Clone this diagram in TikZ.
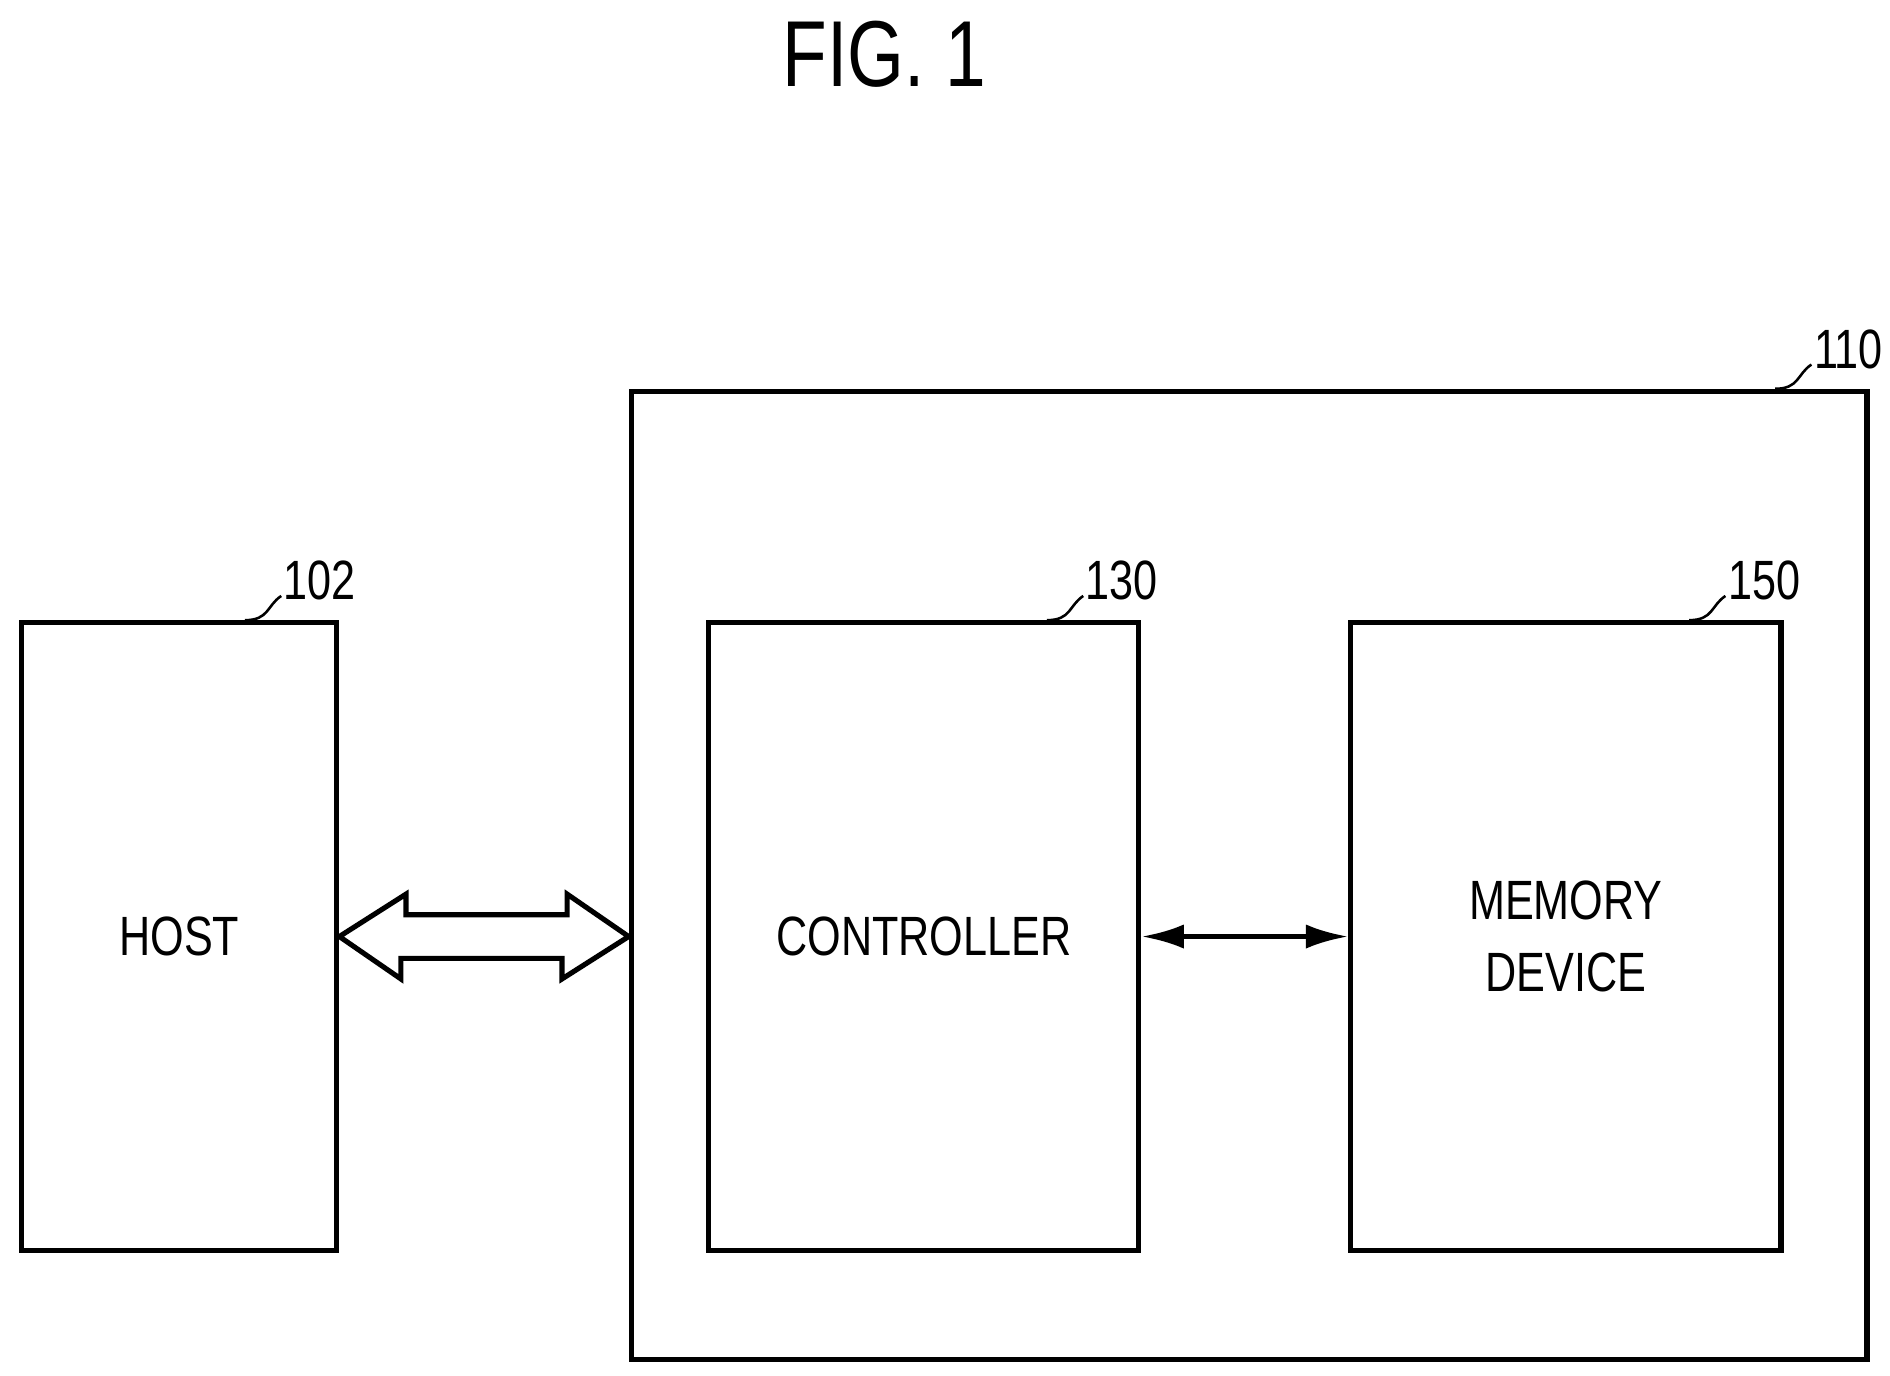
\documentclass[tikz,border=0pt]{standalone}
\usepackage{fontspec}
\setmainfont{Liberation Sans}[FakeStretch=0.78]
\usetikzlibrary{arrows.meta,positioning}
\tikzset{
  block/.style={draw, line width=1.2pt, minimum width=#1, minimum height=5.18cm, inner sep=0pt},
  refnum/.style={font=\fontsize{13}{16}\selectfont, anchor=south west, inner sep=1pt},
  leader/.style={line width=0.6pt}
}
\begin{document}
\begin{tikzpicture}[y=-1cm]
    \useasboundingbox (0,0) rectangle (15.6,11.35);
    \node[font=\fontsize{22}{26}\selectfont] (title) at (7.3,0.45) {FIG. 1};

    % Draw the blocks
    \node[draw, line width=1.2pt, minimum width=10.2cm, minimum height=7.99cm, inner sep=0pt] (sys) at (10.31,7.225) {};
    \node[block=2.6cm] (host) at (1.48,7.73) {};
    \node[block=3.55cm] (ctrl) at (7.625,7.73) {};
    \node[block=3.55cm] (mem) at (12.925,7.73) {};
    \node[font=\fontsize{13}{17}\selectfont] at (host) {HOST};
    \node[font=\fontsize{13}{17}\selectfont] at (ctrl) {CONTROLLER};
    \node[font=\fontsize{13}{17}\selectfont, align=center] at (mem) {MEMORY\\DEVICE};

    % Draw the reference numbers
    \foreach \blk/\num in {host/102, ctrl/130, mem/150, sys/110} {
      \coordinate (l\num) at ([xshift=-0.78cm]\blk.north east);
      \draw[leader] (l\num) .. controls +(0.2,0) and +(-0.12,0.08) .. ++(0.3,-0.2) coordinate (e\num);
      \node[refnum] at ([xshift=-0.02cm,yshift=-0.08cm]e\num) {\num};
    }

    % Draw the arrows
    \draw[line width=1.2pt, line join=miter]
      (host.east) -- ++(0.55,-0.35) -- ++(0,0.17) -- ++(1.33,0) -- ++(0,-0.17)
      -- (sys.west |- host.east) -- ++(-0.55,0.35) -- ++(0,-0.17) -- ++(-1.33,0)
      -- ++(0,0.17) -- cycle;
    \draw[{Latex[length=0.35cm,width=0.2cm]}-{Latex[length=0.35cm,width=0.2cm]}, line width=1.2pt] (ctrl.east) -- (mem.west);
\end{tikzpicture}
\end{document}
